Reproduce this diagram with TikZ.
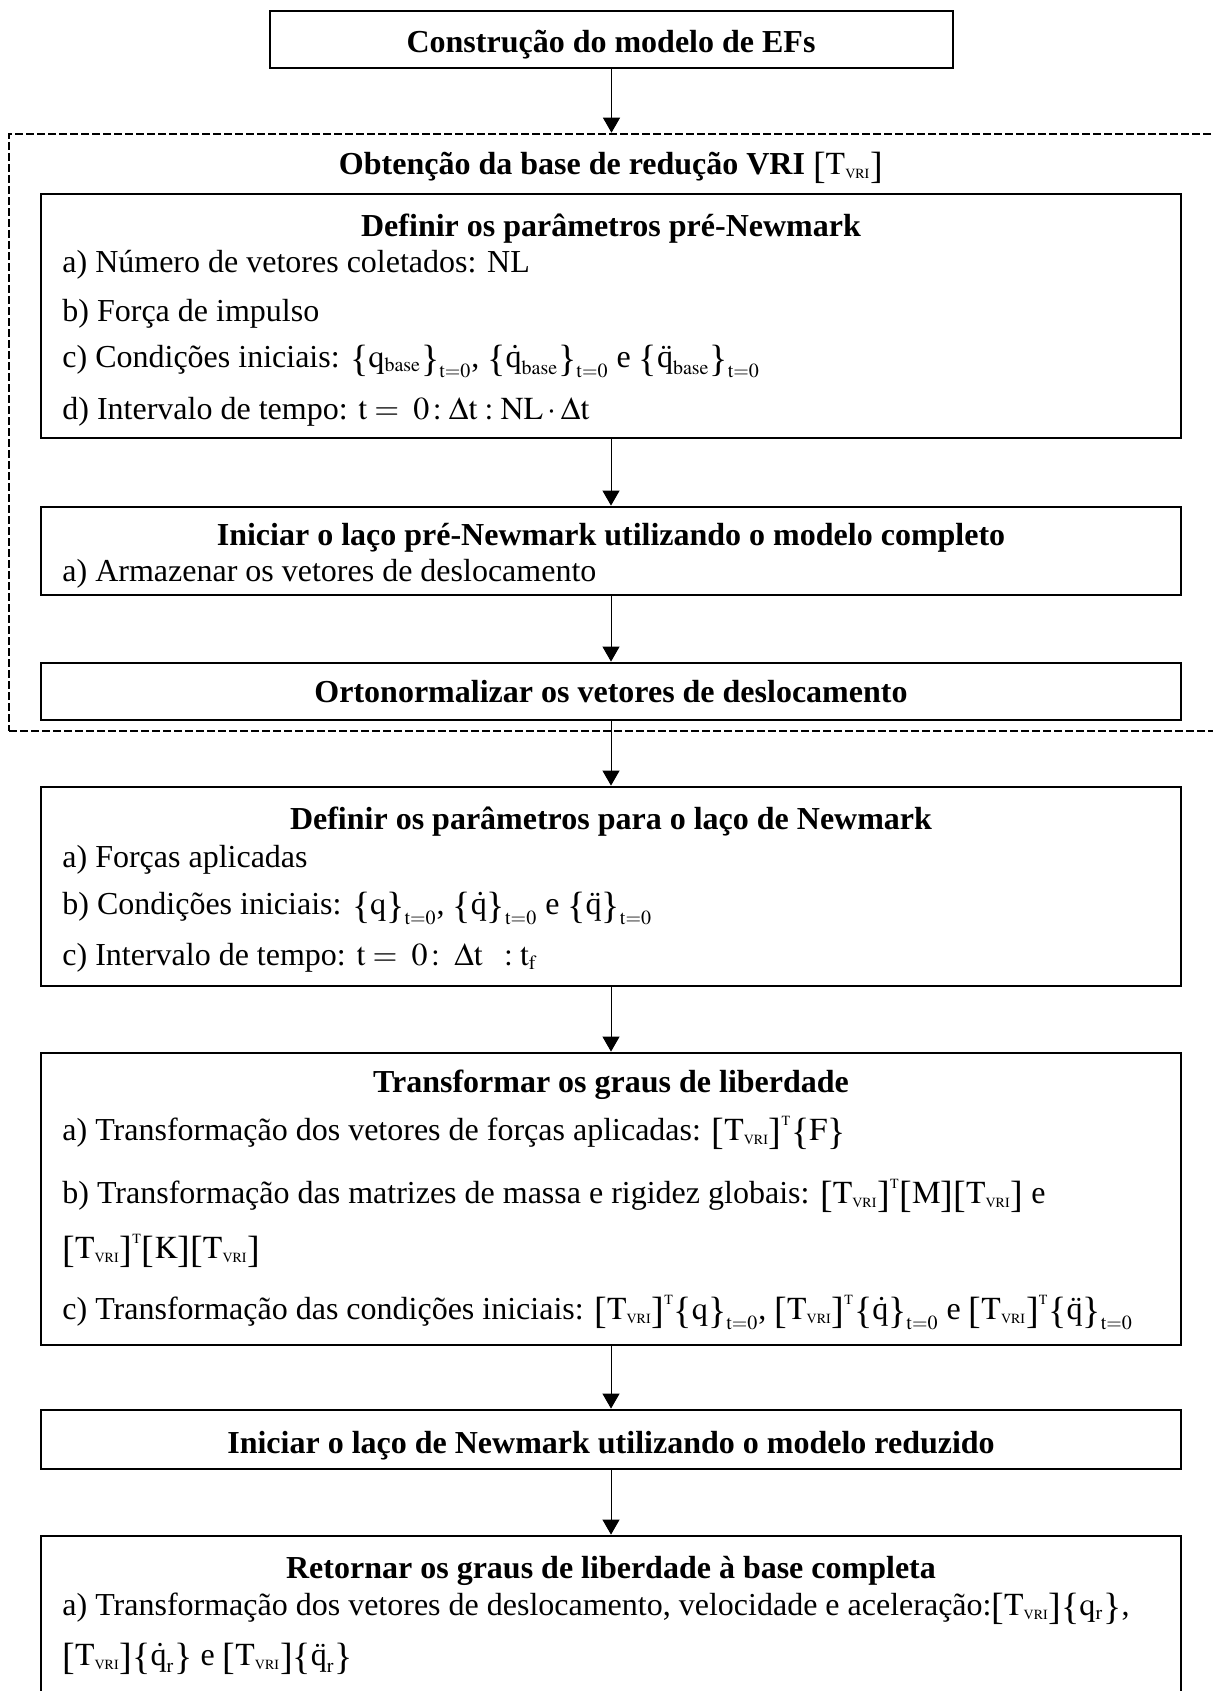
\documentclass[tikz,border=0pt]{standalone}
\usepackage{mathptmx}
\usepackage{fontspec}
\setmainfont{Liberation Serif}
\usetikzlibrary{arrows.meta,positioning}

\DeclareMathSizes{16}{16}{10}{7}
\newcommand{\dl}[1]{\mathopen{\hbox{\normalfont\fontsize{19}{19}\selectfont\raisebox{-2pt}{#1}}}}
\newcommand{\dr}[1]{\mathclose{\hbox{\normalfont\fontsize{19}{19}\selectfont\raisebox{-2pt}{#1}}}}
\newcommand{\Tv}{\dl{[}\mathrm{T}_{\scriptscriptstyle\mathrm{VRI}}\dr{]}}
\newcommand{\TvT}{\Tv^{\scriptscriptstyle\mathrm{T}}}
\newcommand{\mt}[1]{\dl{[}\mathrm{#1}\dr{]}}
\newcommand{\vc}[1]{\dl{\{}#1\dr{\}}}
\newcommand{\qq}{\mathrm{q}}
\newcommand{\qd}{\mbox{\normalfont q̇}}
\newcommand{\qdd}{\mbox{\normalfont q̈}}

\begin{document}
\begin{tikzpicture}
[x=0.5pt, y=-0.5pt,
stage/.style={rectangle, draw, line width=1.4pt, minimum width=570pt, inner sep=0pt},
frame/.style={rectangle, draw, dash pattern=on 4pt off 1.5pt, line width=1.3pt, inner sep=0pt},
head/.style={font=\fontsize{16}{24}\selectfont\bfseries, anchor=base, inner sep=0pt},
item/.style={font=\fontsize{16}{24}\selectfont, anchor=base west, inner sep=0pt},
>/.tip={Triangle[length=7.5pt, width=8.5pt]}]

	\useasboundingbox (0,0) rectangle (1212,1691);

	% caixas
	\node (efs) at (611.5,39.5) [stage, minimum width=341.5pt, minimum height=28.5pt]{};
	\node (vri) at (619.5,432.5) [frame, minimum width=610.5pt, minimum height=298.5pt]{};
	\node (prepar) at (611,316) [stage, minimum height=122pt]{};
	\node (preloop) at (611,551) [stage, minimum height=44pt]{};
	\node (orto) at (611,691.5) [stage, minimum height=28.5pt]{};
	\node (nwpar) at (611,886.5) [stage, minimum height=99.5pt]{};
	\node (transf) at (611,1199) [stage, minimum height=146pt]{};
	\node (nwloop) at (611,1439.5) [stage, minimum height=29.5pt]{};
	\node (retorno) at (611,1628) [stage, minimum height=92pt]{};

	% textos
	\node (efstit) at (611,53) [head]{Construção do modelo de EFs};
	\node (vritit) at (611,174) [head]{Obtenção da base de redução VRI $\Tv$};

	\node (prepartit) at (611,236) [head]{Definir os parâmetros pré-Newmark};
	\node (prepara) at (62,272) [item]{a) Número de vetores coletados: NL};
	\node (preparb) at (62,321) [item]{b) Força de impulso};
	\node (preparc) at (62,367) [item]{c) Condições iniciais: $\vc{\qq_{\mathrm{base}}}_{\mathrm{t=0}}$, $\vc{\qd_{\mathrm{base}}}_{\mathrm{t=0}}$ e $\vc{\qdd_{\mathrm{base}}}_{\mathrm{t=0}}$};
	\node (prepard) at (62,419) [item]{d) Intervalo de tempo: $\mathrm{t}=\;0\!:\Delta\mathrm{t}:\mathrm{NL}\cdot\Delta\mathrm{t}$};

	\node (preloottit) at (611,545) [head]{Iniciar o laço pré-Newmark utilizando o modelo completo};
	\node (preloopa) at (62,581) [item]{a) Armazenar os vetores de deslocamento};

	\node (ortotit) at (611,702) [head]{Ortonormalizar os vetores de deslocamento};

	\node (nwpartit) at (611,829) [head]{Definir os parâmetros para o laço de Newmark};
	\node (nwpara) at (62,867) [item]{a) Forças aplicadas};
	\node (nwparb) at (62,914) [item]{b) Condições iniciais: $\vc{\qq}_{\mathrm{t=0}}$, $\vc{\qd}_{\mathrm{t=0}}$ e $\vc{\qdd}_{\mathrm{t=0}}$};
	\node (nwparc) at (62,965) [item]{c) Intervalo de tempo: $\mathrm{t}=\;0\!:\;\Delta\mathrm{t}\;\;:\mathrm{t}_{\mathrm{f}}$};

	\node (transftit) at (611,1092) [head]{Transformar os graus de liberdade};
	\node (transfa) at (62,1140) [item]{a) Transformação dos vetores de forças aplicadas: $\TvT\vc{\mathrm{F}}$};
	\node (transfb) at (62,1203) [item]{b) Transformação das matrizes de massa e rigidez globais: $\TvT\mt{M}\Tv$ e};
	\node (transfbb) at (62,1258) [item]{$\TvT\mt{K}\Tv$};
	\node (transfc) at (62,1319) [item]{c) Transformação das condições iniciais: $\TvT\vc{\qq}_{\mathrm{t=0}}$, $\TvT\vc{\qd}_{\mathrm{t=0}}$ e $\TvT\vc{\qdd}_{\mathrm{t=0}}$};

	\node (nwlooptit) at (611,1453) [head]{Iniciar o laço de Newmark utilizando o modelo reduzido};

	\node (retornotit) at (611,1578) [head]{Retornar os graus de liberdade à base completa};
	\node (retornoa) at (62,1615) [item]{a) Transformação dos vetores de deslocamento, velocidade e aceleração:$\Tv\vc{\qq_{\mathrm{r}}}$,};
	\node (retornoaa) at (62,1665) [item]{$\Tv\vc{\qd_{\mathrm{r}}}$ e $\Tv\vc{\qdd_{\mathrm{r}}}$};

	% setas
	\draw[->, line width=0.5pt] (efs.south) -- (efs.south |- vri.north);
	\draw[->, line width=0.5pt] (prepar) -- (preloop);
	\draw[->, line width=0.5pt] (preloop) -- (orto);
	\draw[->, line width=0.5pt] (orto) -- (nwpar);
	\draw[->, line width=0.5pt] (nwpar) -- (transf);
	\draw[->, line width=0.5pt] (transf) -- (nwloop);
	\draw[->, line width=0.5pt] (nwloop) -- (retorno);

\end{tikzpicture}
\end{document}
